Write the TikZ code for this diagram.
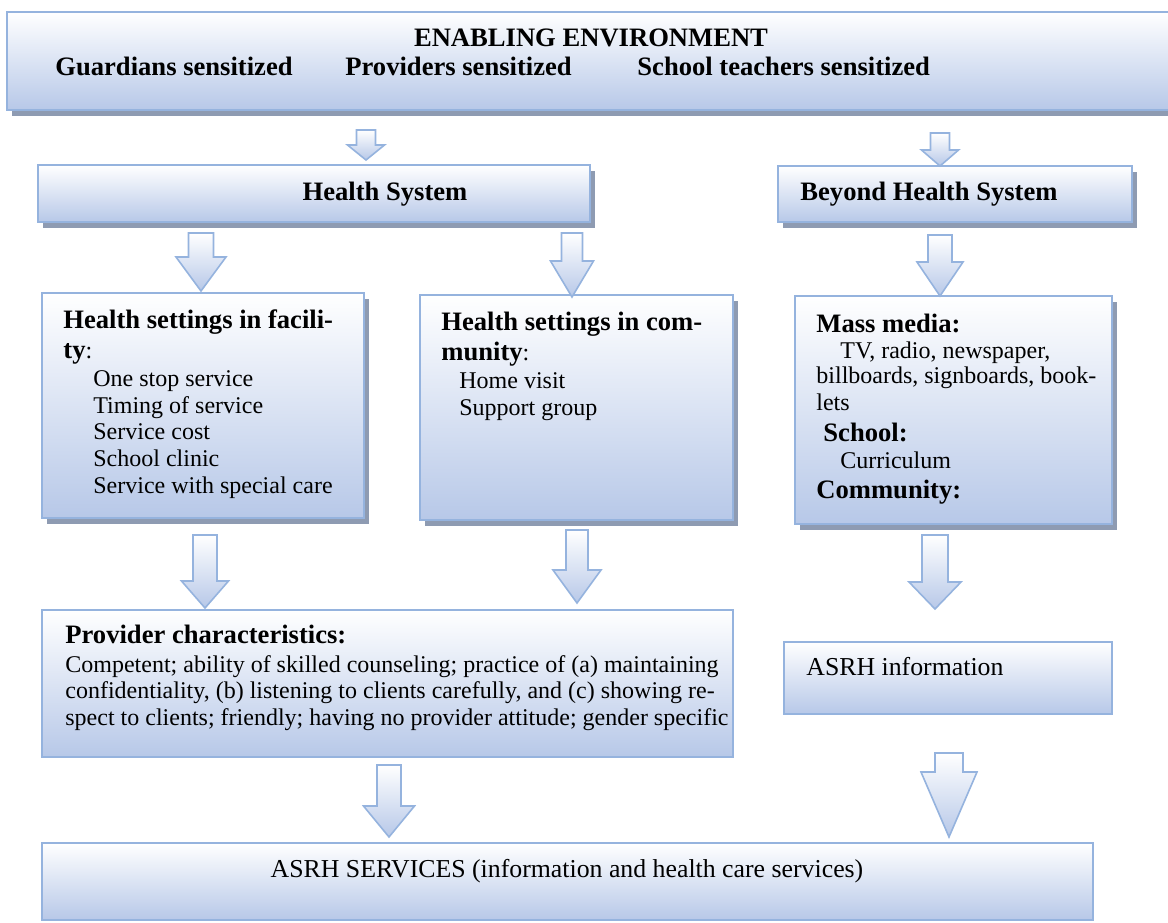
\documentclass[tikz,border=0pt]{standalone}
\usepackage{fontspec}
\setmainfont{Liberation Serif}
\usetikzlibrary{shadows}
\definecolor{bord}{HTML}{95B3DE}
\definecolor{fillbot}{HTML}{B7C8E8}
\definecolor{shad}{HTML}{8E9BB2}
\tikzset{
 box/.style={draw=bord, line width=1pt, top color=white, bottom color=fillbot, anchor=north west, inner sep=0pt, outer sep=0pt},
 shbox/.style={box, drop shadow={shadow xshift=2.5pt, shadow yshift=-3pt, fill=shad, opacity=1}},
 barrow/.style={draw=bord, line width=0.8pt, top color=white, bottom color=fillbot, line join=miter},
 hd/.style={font=\fontsize{13.3}{16}\selectfont\bfseries, anchor=base west, inner sep=0pt},
 tx/.style={font=\fontsize{12}{14}\selectfont, anchor=base west, inner sep=0pt},
 txl/.style={font=\fontsize{12.9}{15}\selectfont, anchor=base west, inner sep=0pt},
}
\newcommand\blockarrow[6]{\path[barrow] ({#1-#5},#2) -- ({#1+#5},#2) -- ({#1+#5},#3) -- ({#1+#6},#3) -- (#1,#4) -- ({#1-#6},#3) -- ({#1-#5},#3) -- cycle;}
\begin{document}
\begin{tikzpicture}[x=0.5pt,y=-0.5pt]
\clip (0,0) rectangle (1168,922);
% boxes
\node[shbox, minimum width=586.5pt, minimum height=49pt] (env) at (7,12) {};
\node[shbox, minimum width=276pt, minimum height=28.5pt] (hs) at (38,165) {};
\node[shbox, minimum width=177pt, minimum height=28pt] (bhs) at (778,166) {};
\node[shbox, minimum width=161pt, minimum height=112.5pt] (fac) at (42,293) {};
\node[shbox, minimum width=156.5pt, minimum height=112.5pt] (com) at (420,295) {};
\node[shbox, minimum width=158.5pt, minimum height=114pt] (mm) at (795,296) {};
\node[box, minimum width=345.5pt, minimum height=73.5pt] (prov) at (42,610) {};
\node[box, minimum width=164pt, minimum height=36pt] (info) at (784,642) {};
\node[box, minimum width=525.5pt, minimum height=38.5pt] (serv) at (42,843) {};
% block arrows
\blockarrow{366}{130}{145}{160}{9.5}{18.5}
\blockarrow{940}{133}{150}{166}{9.5}{18.5}
\blockarrow{201}{233}{257}{291}{12.5}{25}
\blockarrow{572}{233}{261}{297}{10.5}{21.5}
\blockarrow{940}{235}{262}{296}{12}{23}
\blockarrow{205}{535}{581}{608}{12}{23.5}
\blockarrow{577}{530}{570}{603}{11}{24}
\blockarrow{935}{535}{582}{609}{13}{26}
\blockarrow{389}{765}{806}{837}{12}{25.5}
\blockarrow{949}{753}{772}{837}{14}{28}
% texts
\node[hd, anchor=base] (t1) at (591,46) {ENABLING ENVIRONMENT};
\node[hd] (t2) at (55,75) {Guardians sensitized};
\node[hd] (t3) at (345,75) {Providers sensitized};
\node[hd] (t4) at (637,75) {School teachers sensitized};
\node[hd, anchor=base] (t5) at (385,200) {Health System};
\node[hd] (t6) at (800,200) {Beyond Health System};
\node[hd] (f1) at (63,328) {Health settings in facili-};
\node[tx] (f2) at (63,358) {\textbf{\fontsize{13.3}{16}\selectfont ty}:};
\node[tx] (f3) at (93,386) {One stop service};
\node[tx] (f4) at (93,413) {Timing of service};
\node[tx] (f5) at (93,439) {Service cost};
\node[tx] (f6) at (93,466) {School clinic};
\node[tx] (f7) at (93,493) {Service with special care};
\node[hd] (c1) at (441,330) {Health settings in com-};
\node[tx] (c2) at (441,360) {\textbf{\fontsize{13.3}{16}\selectfont munity}:};
\node[tx] (c3) at (459,388) {Home visit};
\node[tx] (c4) at (459,415) {Support group};
\node[hd] (m1) at (816,332) {Mass media:};
\node[tx] (m2) at (840,358) {TV, radio, newspaper,};
\node[tx] (m3) at (816,383) {billboards, signboards, book-};
\node[tx] (m4) at (816,410) {lets};
\node[hd] (m5) at (823,441) {School:};
\node[tx] (m6) at (840,468) {Curriculum};
\node[hd] (m7) at (816,498) {Community:};
\node[hd] (p1) at (65,643) {Provider characteristics:};
\node[tx] (p2) at (65,672) {Competent; ability of skilled counseling; practice of (a) maintaining};
\node[tx] (p3) at (65,698) {confidentiality, (b) listening to clients carefully, and (c) showing re-};
\node[tx] (p4) at (65,725) {spect to clients; friendly; having no provider attitude; gender specific};
\node[txl] (i1) at (806,675) {ASRH information};
\node[txl, anchor=base] (s1) at (567,877) {ASRH SERVICES (information and health care services)};
\end{tikzpicture}
\end{document}
